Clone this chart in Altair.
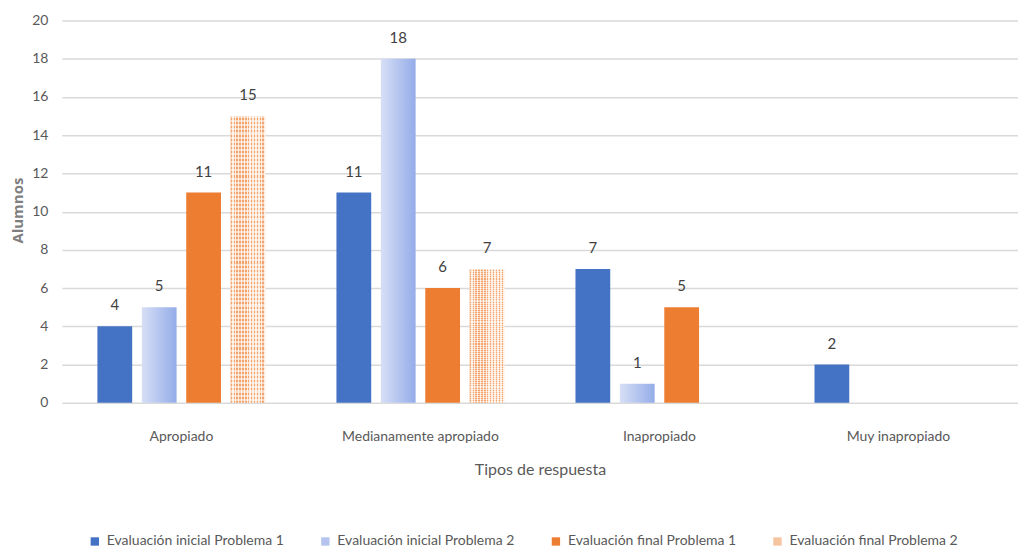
import altair as alt
import pandas as pd

categories = ["Apropiado", "Medianamente apropiado", "Inapropiado", "Muy inapropiado"]
series = ["Evaluación inicial Problema 1", "Evaluación inicial Problema 2",
          "Evaluación final Problema 1", "Evaluación final Problema 2"]
s1 = [4, 11, 7, 2]
s2 = [5, 18, 1, 0]
s3 = [11, 6, 5, 0]
s4 = [15, 7, 0, 0]
colors = ["#4472C4", "#B4C4EF", "#ED7D31", "#F7C4A0"]

rows = []
for sname, vals in zip(series, [s1, s2, s3, s4]):
    for c, v in zip(categories, vals):
        rows.append({"cat": c, "serie": sname, "val": v})
df = pd.DataFrame(rows)
df = df[df["val"] > 0]

FONT = "Lato"
GRAY = "#595959"

x = alt.X("cat:N", sort=categories,
          scale=alt.Scale(paddingInner=0, paddingOuter=0),
          axis=alt.Axis(title="Tipos de respuesta", labelAngle=0, domain=False, ticks=False,
                        labelPadding=27, titlePadding=18, labelFontSize=14, titleFontSize=16,
                        labelColor=GRAY, titleColor=GRAY, labelFont=FONT, titleFont=FONT,
                        titleFontWeight="normal"))
xo = alt.XOffset("serie:N", sort=series,
                 scale=alt.Scale(paddingInner=0.217, paddingOuter=0.8))
y = alt.Y("val:Q", scale=alt.Scale(domain=[0, 20]),
          axis=alt.Axis(title="Alumnos", values=list(range(0, 21, 2)), domain=False, ticks=False,
                        labelPadding=14, labelFontSize=14, labelColor=GRAY, labelFont=FONT,
                        titleFont="Open Sans", titleFontSize=15, titleColor="#7F7F7F",
                        titleFontWeight="bold", titleX=-36, titleY=190,
                        gridColor="#D9D9D9", gridWidth=1.5))
color = alt.Color("serie:N", sort=series,
                  scale=alt.Scale(domain=series, range=colors),
                  legend=alt.Legend(title=None, orient="none", direction="horizontal",
                                    legendX=26, legendY=515, symbolType="square",
                                    symbolSize=70, symbolStrokeWidth=0, labelFontSize=14,
                                    labelColor=GRAY, labelFont=FONT, columnPadding=34,
                                    labelOffset=5, labelLimit=400))

base = alt.Chart(df).encode(x=x, xOffset=xo, y=y)

bars = base.mark_bar().encode(color=color).transform_filter(
    (alt.datum.serie == series[0]) | (alt.datum.serie == series[2]))

grad2 = alt.Gradient(gradient="linear", x1=0, x2=1, y1=0, y2=0,
                     stops=[alt.GradientStop(color="#D7DFF6", offset=0),
                            alt.GradientStop(color="#94ACE8", offset=1)])
bars2 = base.mark_bar(fill=grad2).encode(color=color).transform_filter(
    alt.datum.serie == series[1])


def stripes(c1, c2, n, vertical):
    st = []
    for i in range(n):
        a = i / n
        b = (i + 0.5) / n
        st += [alt.GradientStop(color=c1, offset=a),
               alt.GradientStop(color=c1, offset=b),
               alt.GradientStop(color=c2, offset=b),
               alt.GradientStop(color=c2, offset=(i + 1) / n)]
    if vertical:
        return alt.Gradient(gradient="linear", x1=0, x2=1, y1=0, y2=0, stops=st)
    return alt.Gradient(gradient="linear", x1=0, x2=0, y1=0, y2=1, stops=st)


bars4 = base.mark_bar(fill=stripes("#F2A46E", "#FDE9DA", 12, True)).encode(
    color=color).transform_filter(alt.datum.serie == series[3])
bars4b = base.mark_bar(fill=stripes("rgba(255,255,255,0.55)", "rgba(255,255,255,0)", 70, False)).encode(
    ).transform_filter(alt.datum.serie == series[3])

labels = base.mark_text(baseline="bottom", dy=-13, fontSize=15, color="#404040",
                        font=FONT).encode(text="val:Q")

chart = alt.layer(bars, bars2, bars4, bars4b, labels).properties(
    width=958, height=383,
    autosize=alt.AutoSizeParams(type="none"),
    padding={"left": 54, "top": 12, "right": 0, "bottom": 148},
).configure_view(stroke=None).configure_axisY(grid=True).configure_axisX(grid=False)

chart.save("out.html", embed_options={"renderer": "svg", "actions": False})
